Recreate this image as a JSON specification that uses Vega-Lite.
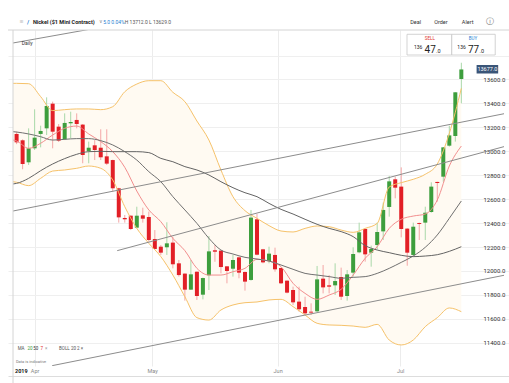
{
  "$schema": "https://vega.github.io/schema/vega-lite/v6.json",
  "width": 501,
  "height": 336,
  "autosize": "none",
  "padding": {"left": 8, "top": 30, "right": 0, "bottom": 17},
  "background": "white",
  "config": {"view": {"stroke": null}, "font": "Roboto"},
  "datasets": {
    "candles": [
      {"i":0,"o":13145,"h":13165,"l":13060,"c":13075},
      {"i":1,"o":13092,"h":13100,"l":12850,"c":12894},
      {"i":2,"o":12908,"h":13192,"l":12886,"c":13025},
      {"i":3,"o":13025,"h":13351,"l":13011,"c":13114},
      {"i":4,"o":13145,"h":13214,"l":13033,"c":13170},
      {"i":5,"o":13192,"h":13451,"l":13136,"c":13379},
      {"i":6,"o":13398,"h":13415,"l":13025,"c":13164},
      {"i":7,"o":13206,"h":13228,"l":13078,"c":13089},
      {"i":8,"o":13100,"h":13317,"l":13094,"c":13237},
      {"i":9,"o":13234,"h":13331,"l":13108,"c":13245},
      {"i":10,"o":13262,"h":13317,"l":13192,"c":13228},
      {"i":11,"o":13223,"h":13228,"l":12900,"c":12969},
      {"i":12,"o":13003,"h":13081,"l":12900,"c":13030},
      {"i":13,"o":13050,"h":13094,"l":12927,"c":13011},
      {"i":14,"o":13030,"h":13184,"l":12927,"c":12950},
      {"i":15,"o":12958,"h":13184,"l":12886,"c":12897},
      {"i":16,"o":12927,"h":12930,"l":12663,"c":12691},
      {"i":17,"o":12691,"h":12695,"l":12404,"c":12448},
      {"i":18,"o":12443,"h":12468,"l":12404,"c":12432},
      {"i":19,"o":12462,"h":12465,"l":12342,"c":12351},
      {"i":20,"o":12362,"h":12537,"l":12356,"c":12462},
      {"i":21,"o":12465,"h":12529,"l":12404,"c":12437},
      {"i":22,"o":12451,"h":12496,"l":12245,"c":12259},
      {"i":23,"o":12267,"h":12342,"l":12181,"c":12184},
      {"i":24,"o":12203,"h":12217,"l":12134,"c":12153},
      {"i":25,"o":12198,"h":12407,"l":12134,"c":12231},
      {"i":26,"o":12237,"h":12287,"l":12022,"c":12056},
      {"i":27,"o":12064,"h":12092,"l":11953,"c":11966},
      {"i":28,"o":11978,"h":11980,"l":11752,"c":11844},
      {"i":29,"o":11844,"h":12092,"l":11841,"c":11972},
      {"i":30,"o":11994,"h":11996,"l":11758,"c":11791},
      {"i":31,"o":11802,"h":11945,"l":11763,"c":11941},
      {"i":32,"o":11964,"h":12292,"l":11841,"c":12164},
      {"i":33,"o":12173,"h":12217,"l":12077,"c":12161},
      {"i":34,"o":12170,"h":12172,"l":11980,"c":12033},
      {"i":35,"o":12039,"h":12040,"l":11897,"c":12000},
      {"i":36,"o":12019,"h":12134,"l":11953,"c":12092},
      {"i":37,"o":12114,"h":12120,"l":11939,"c":11986},
      {"i":38,"o":11992,"h":11995,"l":11836,"c":11911},
      {"i":39,"o":11925,"h":12510,"l":11919,"c":12446},
      {"i":40,"o":12432,"h":12476,"l":12131,"c":12136},
      {"i":41,"o":12181,"h":12185,"l":12064,"c":12072},
      {"i":42,"o":12083,"h":12203,"l":12064,"c":12145},
      {"i":43,"o":12134,"h":12195,"l":11994,"c":12014},
      {"i":44,"o":12025,"h":12028,"l":11891,"c":11897},
      {"i":45,"o":11919,"h":11922,"l":11813,"c":11819},
      {"i":46,"o":11841,"h":11869,"l":11716,"c":11738},
      {"i":47,"o":11744,"h":11869,"l":11660,"c":11680},
      {"i":48,"o":11699,"h":11785,"l":11632,"c":11646},
      {"i":49,"o":11660,"h":11730,"l":11632,"c":11652},
      {"i":50,"o":11663,"h":12042,"l":11657,"c":11930},
      {"i":51,"o":11936,"h":12050,"l":11813,"c":11863},
      {"i":52,"o":11880,"h":11966,"l":11813,"c":11869},
      {"i":53,"o":11880,"h":12064,"l":11799,"c":11916},
      {"i":54,"o":11950,"h":12028,"l":11758,"c":11785},
      {"i":55,"o":11791,"h":12008,"l":11752,"c":11972},
      {"i":56,"o":11986,"h":12198,"l":11953,"c":12142},
      {"i":57,"o":12156,"h":12404,"l":12148,"c":12323},
      {"i":58,"o":12351,"h":12355,"l":12078,"c":12139},
      {"i":59,"o":12153,"h":12212,"l":12036,"c":12184},
      {"i":60,"o":12217,"h":12404,"l":12181,"c":12326},
      {"i":61,"o":12331,"h":12571,"l":12259,"c":12510},
      {"i":62,"o":12535,"h":12794,"l":12454,"c":12749},
      {"i":63,"o":12766,"h":12788,"l":12607,"c":12696},
      {"i":64,"o":12705,"h":12866,"l":12281,"c":12351},
      {"i":65,"o":12354,"h":12357,"l":12044,"c":12153},
      {"i":66,"o":12134,"h":12404,"l":12120,"c":12370},
      {"i":67,"o":12401,"h":12404,"l":12259,"c":12393},
      {"i":68,"o":12404,"h":12537,"l":12259,"c":12487},
      {"i":69,"o":12493,"h":12741,"l":12487,"c":12705},
      {"i":70,"o":12744,"h":12746,"l":12579,"c":12735},
      {"i":71,"o":12788,"h":13036,"l":12746,"c":13033},
      {"i":72,"o":13047,"h":13214,"l":13039,"c":13133},
      {"i":73,"o":13128,"h":13495,"l":13081,"c":13493},
      {"i":74,"o":13604,"h":13740,"l":13401,"c":13684}
    ],
    "bands": [
      {"i":-0.6,"up":13568,"lo":12746,"mid":13164,"ma50":12727,"ma7":13094},
      {"i":0,"up":13568,"lo":12741,"mid":13161,"ma50":12732,"ma7":13086},
      {"i":2,"up":13565,"lo":12713,"mid":13145,"ma50":12774,"ma7":13025},
      {"i":4,"up":13457,"lo":12774,"mid":13122,"ma50":12838,"ma7":13067},
      {"i":6,"up":13340,"lo":12835,"mid":13094,"ma50":12894,"ma7":13136},
      {"i":8,"up":13348,"lo":12844,"mid":13100,"ma50":12939,"ma7":13192},
      {"i":10,"up":13354,"lo":12858,"mid":13106,"ma50":12975,"ma7":13211},
      {"i":12,"up":13354,"lo":12877,"mid":13106,"ma50":12997,"ma7":13145},
      {"i":14,"up":13348,"lo":12858,"mid":13089,"ma50":13000,"ma7":13081},
      {"i":16,"up":13373,"lo":12760,"mid":13053,"ma50":12997,"ma7":12997},
      {"i":18,"up":13498,"lo":12537,"mid":12997,"ma50":12997,"ma7":12866},
      {"i":20,"up":13562,"lo":12356,"mid":12927,"ma50":12997,"ma7":12668},
      {"i":22,"up":13590,"lo":12231,"mid":12830,"ma50":12989,"ma7":12510},
      {"i":24,"up":13590,"lo":12120,"mid":12746,"ma50":12941,"ma7":12412},
      {"i":26,"up":13493,"lo":11966,"mid":12621,"ma50":12913,"ma7":12273},
      {"i":28,"up":13415,"lo":11785,"mid":12510,"ma50":12872,"ma7":12170},
      {"i":30,"up":13253,"lo":11610,"mid":12398,"ma50":12844,"ma7":12022},
      {"i":32,"up":13094,"lo":11590,"mid":12273,"ma50":12802,"ma7":11966},
      {"i":34,"up":12844,"lo":11674,"mid":12175,"ma50":12746,"ma7":11966},
      {"i":36,"up":12621,"lo":11716,"mid":12142,"ma50":12696,"ma7":11994},
      {"i":38,"up":12504,"lo":11735,"mid":12114,"ma50":12654,"ma7":12022},
      {"i":40,"up":12440,"lo":11741,"mid":12100,"ma50":12621,"ma7":12097},
      {"i":42,"up":12379,"lo":11758,"mid":12083,"ma50":12565,"ma7":12083},
      {"i":44,"up":12334,"lo":11763,"mid":12050,"ma50":12515,"ma7":12036},
      {"i":46,"up":12326,"lo":11702,"mid":12014,"ma50":12476,"ma7":11897},
      {"i":48,"up":12356,"lo":11632,"mid":11980,"ma50":12432,"ma7":11813},
      {"i":50,"up":12376,"lo":11563,"mid":11966,"ma50":12390,"ma7":11763},
      {"i":52,"up":12370,"lo":11549,"mid":11953,"ma50":12356,"ma7":11799},
      {"i":54,"up":12342,"lo":11546,"mid":11939,"ma50":12329,"ma7":11847},
      {"i":56,"up":12323,"lo":11540,"mid":11947,"ma50":12287,"ma7":11966},
      {"i":58,"up":12356,"lo":11529,"mid":11953,"ma50":12212,"ma7":12106},
      {"i":60,"up":12398,"lo":11554,"mid":11980,"ma50":12175,"ma7":12203},
      {"i":62,"up":12702,"lo":11423,"mid":12022,"ma50":12153,"ma7":12356},
      {"i":64,"up":12738,"lo":11382,"mid":12072,"ma50":12131,"ma7":12432},
      {"i":66,"up":12766,"lo":11423,"mid":12125,"ma50":12120,"ma7":12459},
      {"i":68,"up":12808,"lo":11535,"mid":12198,"ma50":12125,"ma7":12476},
      {"i":70,"up":12894,"lo":11610,"mid":12301,"ma50":12136,"ma7":12593},
      {"i":72,"up":13150,"lo":11691,"mid":12440,"ma50":12164,"ma7":12877},
      {"i":74,"up":13526,"lo":11660,"mid":12585,"ma50":12203,"ma7":13044}
    ],
    "trend": [
      {"line":"A","i":-0.6,"p":13905},
      {"line":"A","i":20,"p":14090},
      {"line":"B","i":-0.6,"p":12501},
      {"line":"B","i":81.1,"p":13314},
      {"line":"C","i":16.74,"p":12170},
      {"line":"C","i":81.1,"p":13039},
      {"line":"D","i":5.92,"p":11209},
      {"line":"D","i":81.1,"p":11964}
    ]
  },
  "layer": [
    {
      "data": {"name": "bands"},
      "mark": {"type": "area", "color": "#fffaf2", "interpolate": "monotone"},
      "encoding": {
        "x": {
          "field": "i", "type": "quantitative",
          "scale": {"domain": [-0.6, 81.1], "nice": false, "zero": false},
          "axis": {
            "title": null, "orient": "bottom",
            "values": [0.705, 2.99, 22.56, 43.43, 63.82],
            "tickCount": 20,
            "labelExpr": "datum.value < 1 ? '2019' : datum.value < 10 ? 'Apr' : datum.value < 30 ? 'May' : datum.value < 50 ? 'Jun' : 'Jul'",
            "offset": 10, "domain": true, "domainColor": "#dddddd", "domainWidth": 1,
            "ticks": false, "tickSize": 0, "labelPadding": -8,
            "labelFontSize": 5.5, "labelFlush": false, "labelOverlap": false,
            "labelColor": {"condition": {"test": "datum.value < 1", "value": "#222222"}, "value": "#888888"},
            "labelFontWeight": {"condition": {"test": "datum.value < 1", "value": "bold"}, "value": "normal"},
            "grid": true, "gridColor": "#ececec",
            "gridOpacity": {"condition": {"test": "datum.value < 1", "value": 0}, "value": 1}
          }
        },
        "y": {
          "field": "lo", "type": "quantitative",
          "scale": {"domain": [11206.1, 14013.6], "nice": false, "zero": false},
          "axis": {
            "title": null, "orient": "right",
            "values": [11400, 11600, 11800, 12000, 12200, 12400, 12600, 12800, 13000, 13200, 13400, 13600, 13800],
            "tickCount": 30,
            "labelExpr": "datum.value > 13700 ? '' : format(datum.value, '.1f')",
            "offset": -26, "domain": false, "ticks": false, "tickSize": 0,
            "labelPadding": 0, "labelFontSize": 6, "labelColor": "#333333", "labelOverlap": false,
            "grid": true, "gridColor": "#efefef"
          }
        },
        "y2": {"field": "up"}
      }
    },
    {
      "data": {"name": "candles"},
      "mark": {"type": "rule", "strokeWidth": 1},
      "encoding": {
        "x": {"field": "i", "type": "quantitative"},
        "y": {"field": "l", "type": "quantitative"},
        "y2": {"field": "h"},
        "color": {"condition": {"test": "datum.c >= datum.o", "value": "#a9d8a9"}, "value": "#f4a6a6"}
      }
    },
    {
      "data": {"name": "candles"},
      "mark": {"type": "bar", "size": 4},
      "encoding": {
        "x": {"field": "i", "type": "quantitative"},
        "y": {"field": "o", "type": "quantitative"},
        "y2": {"field": "c"},
        "color": {"condition": {"test": "datum.c >= datum.o", "value": "#3d9e3d"}, "value": "#e21f26"}
      }
    },
    {
      "data": {"name": "bands"},
      "mark": {"type": "line", "color": "#f6c26a", "strokeWidth": 1, "interpolate": "monotone"},
      "encoding": {"x": {"field": "i", "type": "quantitative"}, "y": {"field": "up", "type": "quantitative"}}
    },
    {
      "data": {"name": "bands"},
      "mark": {"type": "line", "color": "#f6c26a", "strokeWidth": 1, "interpolate": "monotone"},
      "encoding": {"x": {"field": "i", "type": "quantitative"}, "y": {"field": "lo", "type": "quantitative"}}
    },
    {
      "data": {"name": "bands"},
      "mark": {"type": "line", "color": "#f28e8e", "strokeWidth": 1, "interpolate": "monotone"},
      "encoding": {"x": {"field": "i", "type": "quantitative"}, "y": {"field": "ma7", "type": "quantitative"}}
    },
    {
      "data": {"name": "bands"},
      "mark": {"type": "line", "color": "#707070", "strokeWidth": 1, "interpolate": "monotone"},
      "encoding": {"x": {"field": "i", "type": "quantitative"}, "y": {"field": "mid", "type": "quantitative"}}
    },
    {
      "data": {"name": "bands"},
      "mark": {"type": "line", "color": "#636363", "strokeWidth": 1, "interpolate": "monotone"},
      "encoding": {"x": {"field": "i", "type": "quantitative"}, "y": {"field": "ma50", "type": "quantitative"}}
    },
    {
      "data": {"name": "trend"},
      "mark": {"type": "line", "color": "#8c8c8c", "strokeWidth": 1, "clip": true},
      "encoding": {
        "x": {"field": "i", "type": "quantitative"},
        "y": {"field": "p", "type": "quantitative"},
        "detail": {"field": "line"}
      }
    },
    {
      "data": {"values": [{}]},
      "mark": {"type": "rule", "color": "#d4d4d4", "strokeWidth": 1},
      "encoding": {"y": {"datum": 14013.6}}
    },
    {
      "data": {"values": [{}]},
      "mark": {"type": "rule", "color": "#d4d4d4", "strokeWidth": 1},
      "encoding": {"x": {"datum": -0.6}, "y": {"datum": 14013.6}, "y2": {"datum": 11064}}
    },
    {
      "data": {"values": [{}]},
      "mark": {"type": "rect", "fill": "white", "stroke": "#c8c8c8", "strokeWidth": 0.8},
      "encoding": {"x": {"datum": 64.96}, "x2": {"datum": 72.41}, "y": {"datum": 13977.7}, "y2": {"datum": 13804.7}}
    },
    {
      "data": {"values": [{}]},
      "mark": {"type": "rect", "fill": "white", "stroke": "#c8c8c8", "strokeWidth": 0.8},
      "encoding": {"x": {"datum": 72.41}, "x2": {"datum": 79.64}, "y": {"datum": 13977.7}, "y2": {"datum": 13804.7}}
    },
    {
      "data": {"values": [{}]},
      "mark": {"type": "rect", "fill": "#3a5578"},
      "encoding": {"x": {"datum": 76.54}, "x2": {"datum": 80.13}, "y": {"datum": 13721.2}, "y2": {"datum": 13650.1}}
    },
    {
      "data": {"values": [{}]},
      "mark": {"type": "text", "align": "center", "baseline": "middle", "fontSize": 5.5, "color": "white"},
      "encoding": {"x": {"datum": 78.34}, "y": {"datum": 13685.7}, "text": {"value": "13677.0"}}
    },
    {
      "data": {"values": [{}]},
      "mark": {"type": "text", "align": "center", "baseline": "middle", "fontSize": 7, "color": "#777777"},
      "encoding": {"x": {"datum": 0.87}, "y": {"datum": 14080.4}, "text": {"value": "≡"}}
    },
    {
      "data": {"values": [{}]},
      "mark": {"type": "text", "align": "center", "baseline": "middle", "fontSize": 6, "fontWeight": "bold", "color": "#2a7fd4"},
      "encoding": {"x": {"datum": 1.93}, "y": {"datum": 14080.4}, "text": {"value": "/"}}
    },
    {
      "data": {"values": [{}]},
      "mark": {"type": "text", "align": "left", "baseline": "middle", "fontSize": 5.5, "fontWeight": "bold", "color": "#222222"},
      "encoding": {"x": {"datum": 2.71}, "y": {"datum": 14080.4}, "text": {"value": "Nickel ($1 Mini Contract)"}}
    },
    {
      "data": {"values": [{}]},
      "mark": {"type": "text", "align": "center", "baseline": "middle", "fontSize": 4.5, "color": "#888888"},
      "encoding": {"x": {"datum": 14.0}, "y": {"datum": 14080.4}, "text": {"value": "∨"}}
    },
    {
      "data": {"values": [{}]},
      "mark": {"type": "text", "align": "left", "baseline": "middle", "fontSize": 5, "color": "#1f7fd2"},
      "encoding": {"x": {"datum": 14.4}, "y": {"datum": 14080.4}, "text": {"value": "5.0 0.04%"}}
    },
    {
      "data": {"values": [{}]},
      "mark": {"type": "text", "align": "left", "baseline": "middle", "fontSize": 5, "color": "#555555"},
      "encoding": {"x": {"datum": 18.0}, "y": {"datum": 14080.4}, "text": {"value": "H 13712.0 L 13629.0"}}
    },
    {
      "data": {"values": [{}]},
      "mark": {"type": "text", "align": "left", "baseline": "middle", "fontSize": 5.5, "color": "#333333"},
      "encoding": {"x": {"datum": 65.5}, "y": {"datum": 14080.4}, "text": {"value": "Deal"}}
    },
    {
      "data": {"values": [{}]},
      "mark": {"type": "text", "align": "left", "baseline": "middle", "fontSize": 5.5, "color": "#333333"},
      "encoding": {"x": {"datum": 69.48}, "y": {"datum": 14080.4}, "text": {"value": "Order"}}
    },
    {
      "data": {"values": [{}]},
      "mark": {"type": "text", "align": "left", "baseline": "middle", "fontSize": 5.5, "color": "#333333"},
      "encoding": {"x": {"datum": 74.09}, "y": {"datum": 14080.4}, "text": {"value": "Alert"}}
    },
    {
      "data": {"values": [{}]},
      "mark": {"type": "text", "align": "center", "baseline": "middle", "fontSize": 8, "font": "DejaVu Sans", "color": "#777777"},
      "encoding": {"x": {"datum": 78.7}, "y": {"datum": 14080.4}, "text": {"value": "ⓘ"}}
    },
    {
      "data": {"values": [{}]},
      "mark": {"type": "text", "align": "center", "baseline": "middle", "fontSize": 4.5, "color": "#e0302f"},
      "encoding": {"x": {"datum": 68.76}, "y": {"datum": 13938.4}, "text": {"value": "SELL"}}
    },
    {
      "data": {"values": [{}]},
      "mark": {"type": "text", "align": "center", "baseline": "middle", "fontSize": 4.5, "color": "#2a7fd4"},
      "encoding": {"x": {"datum": 75.93}, "y": {"datum": 13938.4}, "text": {"value": "BUY"}}
    },
    {
      "data": {"values": [{}]},
      "mark": {"type": "text", "align": "right", "baseline": "alphabetic", "fontSize": 5, "color": "#222222"},
      "encoding": {"x": {"datum": 67.52}, "y": {"datum": 13852.3}, "text": {"value": "136"}}
    },
    {
      "data": {"values": [{}]},
      "mark": {"type": "text", "align": "left", "baseline": "alphabetic", "fontSize": 10, "color": "#222222"},
      "encoding": {"x": {"datum": 67.88}, "y": {"datum": 13818.9}, "text": {"value": "47"}}
    },
    {
      "data": {"values": [{}]},
      "mark": {"type": "text", "align": "left", "baseline": "alphabetic", "fontSize": 5.5, "color": "#222222"},
      "encoding": {"x": {"datum": 69.8}, "y": {"datum": 13818.9}, "text": {"value": ".0"}}
    },
    {
      "data": {"values": [{}]},
      "mark": {"type": "text", "align": "right", "baseline": "alphabetic", "fontSize": 5, "color": "#222222"},
      "encoding": {"x": {"datum": 74.74}, "y": {"datum": 13852.3}, "text": {"value": "136"}}
    },
    {
      "data": {"values": [{}]},
      "mark": {"type": "text", "align": "left", "baseline": "alphabetic", "fontSize": 10, "color": "#222222"},
      "encoding": {"x": {"datum": 75.1}, "y": {"datum": 13818.9}, "text": {"value": "77"}}
    },
    {
      "data": {"values": [{}]},
      "mark": {"type": "text", "align": "left", "baseline": "alphabetic", "fontSize": 5.5, "color": "#222222"},
      "encoding": {"x": {"datum": 77.02}, "y": {"datum": 13818.9}, "text": {"value": ".0"}}
    },
    {
      "data": {"values": [{}]},
      "mark": {"type": "text", "align": "left", "baseline": "middle", "fontSize": 5, "color": "#333333"},
      "encoding": {"x": {"datum": 0.87}, "y": {"datum": 13902.5}, "text": {"value": "Daily"}}
    },
    {
      "data": {"values": [{}]},
      "mark": {"type": "text", "align": "left", "baseline": "middle", "fontSize": 4.5, "color": "#555555"},
      "encoding": {"x": {"datum": 0.17}, "y": {"datum": 11345.6}, "text": {"value": "MA"}}
    },
    {
      "data": {"values": [{}]},
      "mark": {"type": "text", "align": "left", "baseline": "middle", "fontSize": 4.5, "color": "#3d9e3d"},
      "encoding": {"x": {"datum": 1.8}, "y": {"datum": 11345.6}, "text": {"value": "20"}}
    },
    {
      "data": {"values": [{}]},
      "mark": {"type": "text", "align": "left", "baseline": "middle", "fontSize": 4.5, "color": "#333333"},
      "encoding": {"x": {"datum": 2.78}, "y": {"datum": 11345.6}, "text": {"value": "50"}}
    },
    {
      "data": {"values": [{}]},
      "mark": {"type": "text", "align": "left", "baseline": "middle", "fontSize": 4.5, "color": "#e21f26"},
      "encoding": {"x": {"datum": 3.97}, "y": {"datum": 11345.6}, "text": {"value": "7"}}
    },
    {
      "data": {"values": [{}]},
      "mark": {"type": "text", "align": "left", "baseline": "middle", "fontSize": 4.5, "color": "#999999"},
      "encoding": {"x": {"datum": 4.73}, "y": {"datum": 11345.6}, "text": {"value": "×"}}
    },
    {
      "data": {"values": [{}]},
      "mark": {"type": "text", "align": "left", "baseline": "middle", "fontSize": 4.5, "color": "#555555"},
      "encoding": {"x": {"datum": 7.06}, "y": {"datum": 11345.6}, "text": {"value": "BOLL 20 2 ×"}}
    },
    {
      "data": {"values": [{}]},
      "mark": {"type": "text", "align": "left", "baseline": "middle", "fontSize": 4, "color": "#777777"},
      "encoding": {"x": {"datum": -0.11}, "y": {"datum": 11237}, "text": {"value": "Data is indicative"}}
    }
  ]
}
